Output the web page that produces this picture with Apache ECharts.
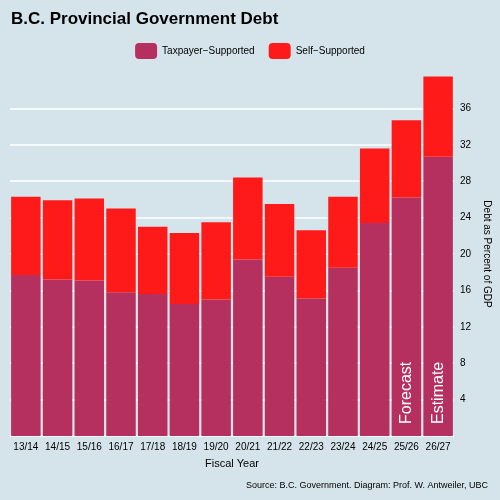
<!DOCTYPE html>
<html>
<head>
<meta charset="utf-8">
<script src="https://cdn.jsdelivr.net/npm/echarts@6/dist/echarts.min.js"></script>
<style>html,body{margin:0;padding:0;background:#d5e4eb;}#chart{width:500px;height:500px;}</style>
</head>
<body>
<div id="chart"></div>
<script>
// fiscal years and debt shares (% of GDP)
const years = ['13/14','14/15','15/16','16/17','17/18','18/19','19/20','20/21','21/22','22/23','23/24','24/25','25/26','26/27'];
const taxpayer = [17.7, 17.2, 17.1, 15.8, 15.6, 14.5, 15.0, 19.4, 17.5, 15.1, 18.5, 23.4, 26.2, 30.7];
const total = [26.3, 25.9, 26.1, 25.0, 23.0, 22.3, 23.5, 28.4, 25.5, 22.6, 26.3, 31.6, 34.7, 39.5];
const selfSupported = total.map((t, i) => +(t - taxpayer[i]).toFixed(1));
const notes = {'25/26': 'Forecast', '26/27': 'Estimate'};

var myChart = echarts.init(document.getElementById('chart'));
var option = {
    backgroundColor: '#d5e4eb',
    textStyle: { fontFamily: 'Liberation Sans' },
    title: {
        text: 'B.C. Provincial Government Debt',
        left: 6, top: 6,
        textStyle: { fontSize: 17, fontWeight: 'bold', color: '#000' }
    },
    legend: {
        top: 38, left: 'center',
        itemWidth: 22, itemHeight: 16, itemGap: 14,
        textStyle: { fontSize: 10, color: '#000' },
        data: ['Taxpayer\u2212Supported', 'Self\u2212Supported']
    },
    grid: { left: 10, right: 36, top: 72, bottom: 64 },
    xAxis: {
        type: 'category', data: years,
        name: 'Fiscal Year', nameLocation: 'middle', nameGap: 22,
        nameTextStyle: { fontSize: 11, color: '#000' },
        axisLine: { show: false }, axisTick: { show: false },
        axisLabel: { color: '#000', fontSize: 10, interval: 0, margin: 6 }
    },
    yAxis: {
        type: 'value', position: 'right', min: 0, max: 40, interval: 4,
        name: 'Debt as Percent of GDP', nameLocation: 'middle', nameGap: 22, nameRotate: -90,
        nameTextStyle: { fontSize: 10, color: '#000' },
        axisLabel: { color: '#000', fontSize: 10, margin: 6, formatter: v => (v === 0 || v === 40) ? '' : v },
        splitLine: { showMaxLine: false, lineStyle: { color: '#fff', width: 1.5 } }
    },
    series: [
        {
            name: 'Taxpayer\u2212Supported', type: 'bar', stack: 'd', barCategoryGap: '7%',
            itemStyle: { color: '#b5305f' },
            data: taxpayer.map((v, i) => ({
                value: v,
                label: notes[years[i]] ? {
                    show: true, formatter: notes[years[i]], position: 'insideBottom',
                    rotate: 90, align: 'left', verticalAlign: 'middle', distance: 12,
                    color: '#fff', fontSize: 16
                } : { show: false }
            }))
        },
        {
            name: 'Self\u2212Supported', type: 'bar', stack: 'd',
            itemStyle: { color: '#ff1a1a' },
            data: selfSupported
        }
    ],
    graphic: [{
        type: 'text', right: 12, bottom: 10,
        style: { text: 'Source: B.C. Government. Diagram: Prof. W. Antweiler, UBC', fontSize: 9, fill: '#000' }
    }]
};
option && myChart.setOption(option);
</script>
</body>
</html>
